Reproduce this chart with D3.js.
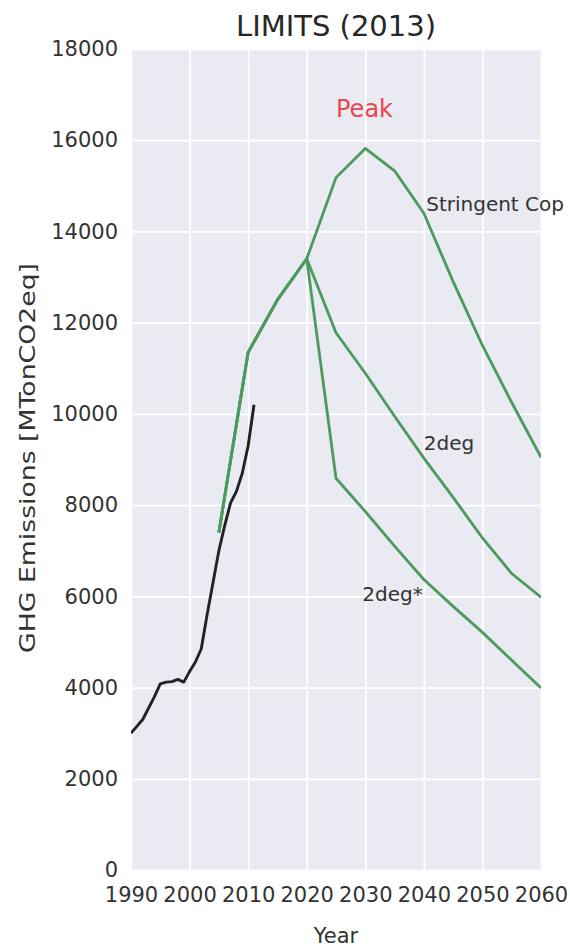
<!DOCTYPE html>
<html>
<head>
<meta charset="utf-8">
<script src="https://cdn.jsdelivr.net/npm/d3@7/dist/d3.min.js"></script>
<style>
  html, body { margin: 0; padding: 0; background: #ffffff; }
  svg { display: block; font-family: "DejaVu Sans", sans-serif; }
</style>
</head>
<body>
<svg id="chart" width="570" height="948"></svg>
<script>
// Historical GHG emissions (MTonCO2eq)
const histYears = [1990, 1991, 1992, 1993, 1994, 1995, 1996, 1997, 1998, 1999, 2000,
                   2001, 2002, 2003, 2004, 2005, 2006, 2007, 2008, 2009, 2010, 2011];
const histValues = [3000, 3150, 3300, 3550, 3800, 4080, 4120, 4130, 4180, 4120, 4350,
                     4560, 4850, 5600, 6300, 7000, 7550, 8050, 8300, 8700, 9300, 10200];

// LIMITS (2013) scenario pathways
const scenarioYears = [2005, 2010, 2015, 2020, 2025, 2030, 2035, 2040, 2045, 2050, 2055, 2060];
const stringentCop = [7400, 11350, 12500, 13400, 15180, 15820, 15330, 14400, 12900, 11500, 10250, 9050];
const twoDeg       = [7400, 11350, 12500, 13400, 11780, 10890, 9950, 9030, 8170, 7280, 6500, 5980];
const twoDegStar   = [7400, 11350, 12500, 13400, 8590, 7860, 7100, 6370, 5780, 5210, 4600, 3990];

// Axis ticks
const xTicks = [1990, 2000, 2010, 2020, 2030, 2040, 2050, 2060];
const yTicks = [0, 2000, 4000, 6000, 8000, 10000, 12000, 14000, 16000, 18000];

// Text annotations, placed in data units
const annotations = [
  { text: "Peak", year: 2025, value: 16500, kind: "peak" },
  { text: "Stringent Cop", year: 2040.4, value: 14450, kind: "label" },
  { text: "2deg", year: 2040, value: 9200, kind: "label" },
  { text: "2deg*", year: 2029.5, value: 5900, kind: "label" }
];

const FONT = "DejaVu Sans";
const svg = d3.select("#chart");
const margin = { left: 131, right: 29, top: 49, bottom: 78 };
const W = 570, H = 948;
const pw = W - margin.left - margin.right;
const ph = H - margin.top - margin.bottom;

const x = d3.scaleLinear().domain([1990, 2060]).range([0, pw]);
const y = d3.scaleLinear().domain([0, 18000]).range([ph, 0]);

const g = svg.append("g").attr("transform", `translate(${margin.left},${margin.top})`);

// Plot background
g.append("rect").attr("width", pw).attr("height", ph).attr("fill", "#eaeaf2");

// Grid and tick labels
const xAxisG = g.append("g")
  .attr("transform", `translate(0,${ph})`)
  .call(d3.axisBottom(x).tickValues(xTicks).tickFormat(d3.format("d")).tickSize(-ph).tickPadding(17));
const yAxisG = g.append("g")
  .call(d3.axisLeft(y).tickValues(yTicks).tickFormat(d3.format("d")).tickSize(-pw).tickPadding(13));

[xAxisG, yAxisG].forEach(a => {
  a.attr("font-family", FONT).attr("font-size", 21);
  a.select(".domain").remove();
  a.selectAll(".tick line").attr("stroke", "#ffffff").attr("stroke-width", 1.7);
  a.selectAll(".tick text").attr("fill", "#333333");
});

// Clip for data lines
svg.append("defs").append("clipPath").attr("id", "plotClip")
  .append("rect").attr("width", pw).attr("height", ph);

const lines = g.append("g").attr("clip-path", "url(#plotClip)");
const lineGen = d3.line().x(d => x(d[0])).y(d => y(d[1]));

const scenarioColor = "#4b9a5e";
[stringentCop, twoDeg, twoDegStar].forEach(series => {
  const pts = scenarioYears.map((yr, i) => [yr, series[i]]);
  lines.append("path")
    .datum(pts)
    .attr("d", lineGen)
    .attr("fill", "none")
    .attr("stroke", scenarioColor)
    .attr("stroke-width", 2.8)
    .attr("stroke-linejoin", "round");
});

lines.append("path")
  .datum(histYears.map((yr, i) => [yr, histValues[i]]))
  .attr("d", lineGen)
  .attr("fill", "none")
  .attr("stroke", "#222222")
  .attr("stroke-width", 2.9)
  .attr("stroke-linejoin", "round");

// Annotations
annotations.forEach(a => {
  g.append("text")
    .attr("x", x(a.year))
    .attr("y", y(a.value))
    .attr("fill", a.kind === "peak" ? "#e8474f" : "#333333")
    .attr("font-family", FONT)
    .attr("font-size", a.kind === "peak" ? 24 : 20)
    .text(a.text);
});

// Title and axis labels
svg.append("text")
  .attr("x", margin.left + pw / 2)
  .attr("y", 36)
  .attr("text-anchor", "middle")
  .attr("fill", "#262626")
  .attr("font-size", 29)
  .text("LIMITS (2013)");

svg.append("text")
  .attr("x", margin.left + pw / 2)
  .attr("y", 943)
  .attr("text-anchor", "middle")
  .attr("fill", "#333333")
  .attr("font-size", 21)
  .text("Year");

svg.append("text")
  .attr("transform", `translate(35,458) rotate(-90)`)
  .attr("text-anchor", "middle")
  .attr("fill", "#333333")
  .attr("font-size", 22)
  .attr("textLength", 390)
  .attr("lengthAdjust", "spacingAndGlyphs")
  .text("GHG Emissions [MTonCO2eq]");
</script>
</body>
</html>
